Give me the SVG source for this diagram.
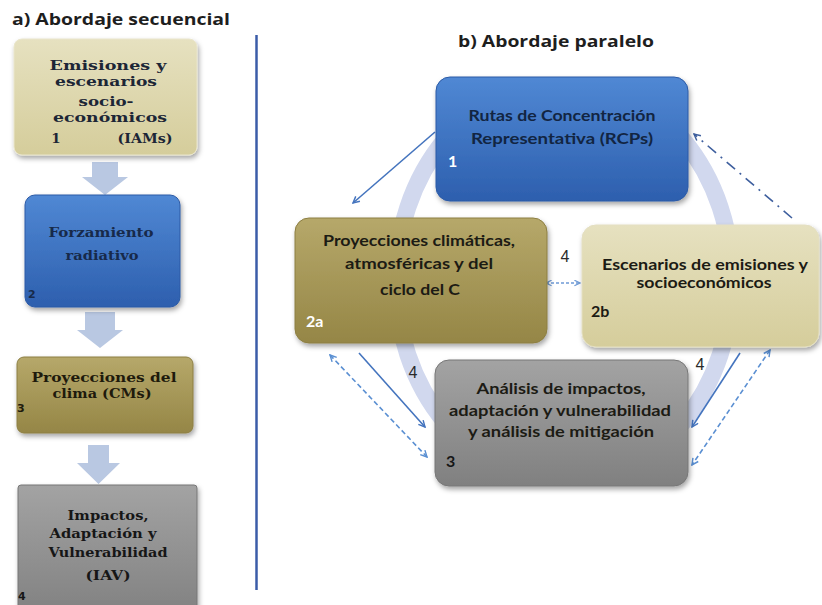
<svg xmlns="http://www.w3.org/2000/svg" width="822" height="605" viewBox="0 0 822 605">
<defs>
<style>
.title{font-family:"Open Sans","Liberation Sans",sans-serif;font-weight:bold;font-size:16px;fill:#1e1e1e}
.lt{font-family:"DejaVu Serif","Liberation Serif",serif;font-weight:bold;font-size:13.5px;fill:#1c2636;text-anchor:middle}
.ln{font-family:"DejaVu Sans","Liberation Sans",sans-serif;font-weight:bold;font-size:11px;fill:#1c2636}
.rt{font-family:"Lato","Open Sans",sans-serif;font-weight:bold;font-size:16px;fill:#1c1b14;text-anchor:middle}
.rn{font-family:"Lato","Open Sans",sans-serif;font-weight:bold;font-size:16px}
.four{font-family:"Liberation Sans","Arial",sans-serif;font-size:16px;fill:#2a2a2a;text-anchor:middle}
.bigarrow{fill:#b9c8e2}
.solid{fill:none;stroke:#4474be;stroke-width:1.6}
.dash{fill:none;stroke:#5a8fd2;stroke-width:1.6;stroke-dasharray:5 3}
.dot{fill:none;stroke:#6f9bd6;stroke-width:1.4;stroke-dasharray:3 2}
.dashdot{fill:none;stroke:#3e5f9e;stroke-width:1.6;stroke-dasharray:11 6 2 6}
</style>
<linearGradient id="gKhaki" x1="0" y1="0" x2="0" y2="1"><stop offset="0" stop-color="#e6e1c0"/><stop offset="1" stop-color="#d5cd9b"/></linearGradient>
<linearGradient id="gBlue" x1="0" y1="0" x2="0" y2="1"><stop offset="0" stop-color="#5088d4"/><stop offset="1" stop-color="#2d5fae"/></linearGradient>
<linearGradient id="gOlive" x1="0" y1="0" x2="0" y2="1"><stop offset="0" stop-color="#b6a86a"/><stop offset="1" stop-color="#958646"/></linearGradient>
<linearGradient id="gGray" x1="0" y1="0" x2="0" y2="1"><stop offset="0" stop-color="#a3a3a3"/><stop offset="1" stop-color="#808080"/></linearGradient>
<filter id="sh" x="-10%" y="-10%" width="125%" height="130%"><feDropShadow dx="1.5" dy="3" stdDeviation="2.5" flood-color="#000" flood-opacity="0.35"/></filter>
<clipPath id="ringClip"><rect x="300" y="95" width="520" height="375"/></clipPath>
<marker id="ah" viewBox="0 0 10 10" refX="9" refY="5" markerWidth="8" markerHeight="8" markerUnits="userSpaceOnUse" orient="auto-start-reverse"><path d="M1,1 L9,5 L1,9" fill="none" stroke="#4474be" stroke-width="1.8"/></marker>
<marker id="ahL" viewBox="0 0 10 10" refX="9" refY="5" markerWidth="8" markerHeight="8" markerUnits="userSpaceOnUse" orient="auto-start-reverse"><path d="M1,1 L9,5 L1,9" fill="none" stroke="#5a8fd2" stroke-width="1.8"/></marker>
<marker id="ahD" viewBox="0 0 10 10" refX="9" refY="5" markerWidth="8" markerHeight="8" markerUnits="userSpaceOnUse" orient="auto-start-reverse"><path d="M1,1 L9,5 L1,9" fill="none" stroke="#3e5f9e" stroke-width="1.8"/></marker>
<marker id="ahS" viewBox="0 0 10 10" refX="9" refY="5" markerWidth="7" markerHeight="7" markerUnits="userSpaceOnUse" orient="auto-start-reverse"><path d="M1,1 L9,5 L1,9" fill="none" stroke="#6f9bd6" stroke-width="1.8"/></marker>
</defs>
<rect width="822" height="605" fill="#ffffff"/>

<!-- Left panel -->
<text class="title" x="12" y="25" textLength="218" lengthAdjust="spacingAndGlyphs">a) Abordaje secuencial</text>

<g id="seq-arrows">
<polygon class="bigarrow" points="92,162 118,162 118,177 128,177 105,195 82,177 92,177"/>
<polygon class="bigarrow" points="85,312 115,312 115,330 123,330 100,348 77,330 85,330"/>
<polygon class="bigarrow" points="88,445 109,445 109,463 120,463 98.5,484 77,463 88,463"/>
</g>

<g id="seq1">
<rect x="14" y="39" width="183" height="116" rx="8" fill="url(#gKhaki)" stroke="#e9e5cc" stroke-width="1" filter="url(#sh)"/>
<text class="lt" x="108" y="70" textLength="117" lengthAdjust="spacingAndGlyphs">Emisiones  y</text>
<text class="lt" x="106" y="86" textLength="102" lengthAdjust="spacingAndGlyphs">escenarios</text>
<text class="lt" x="106" y="106" textLength="55" lengthAdjust="spacingAndGlyphs">socio-</text>
<text class="lt" x="110" y="122" textLength="114" lengthAdjust="spacingAndGlyphs">económicos</text>
<text class="lt" x="56" y="143">1</text>
<text class="lt" x="145" y="143" textLength="55" lengthAdjust="spacingAndGlyphs">(IAMs)</text>
</g>

<g id="seq2">
<rect x="25" y="195" width="155" height="112" rx="10" fill="url(#gBlue)" stroke="#2c5aa6" stroke-width="1" filter="url(#sh)"/>
<text class="lt" x="101" y="237" textLength="105" lengthAdjust="spacingAndGlyphs" style="fill:#172a4a">Forzamiento</text>
<text class="lt" x="102" y="260" textLength="73" lengthAdjust="spacingAndGlyphs" style="fill:#172a4a">radiativo</text>
<text class="ln" x="28" y="298" style="fill:#172a4a">2</text>
</g>

<g id="seq3">
<rect x="17" y="357" width="176" height="76" rx="7" fill="url(#gOlive)" stroke="#8c7e42" stroke-width="1" filter="url(#sh)"/>
<text class="lt" x="104" y="382" textLength="145" lengthAdjust="spacingAndGlyphs" style="fill:#1e1a0c">Proyecciones  del</text>
<text class="lt" x="102" y="398" textLength="99" lengthAdjust="spacingAndGlyphs" style="fill:#1e1a0c">clima  (CMs)</text>
<text class="ln" x="17" y="412" style="fill:#1e1a0c">3</text>
</g>

<g id="seq4">
<rect x="18" y="485" width="179" height="135" rx="3" fill="url(#gGray)" stroke="#777" stroke-width="1" filter="url(#sh)"/>
<text class="lt" x="108" y="520" textLength="81" lengthAdjust="spacingAndGlyphs" style="fill:#161616">Impactos,</text>
<text class="lt" x="103" y="538" textLength="107" lengthAdjust="spacingAndGlyphs" style="fill:#161616">Adaptación y</text>
<text class="lt" x="108" y="557" textLength="119" lengthAdjust="spacingAndGlyphs" style="fill:#161616">Vulnerabilidad</text>
<text class="lt" x="108" y="580" textLength="45" lengthAdjust="spacingAndGlyphs" style="fill:#161616">(IAV)</text>
<text class="ln" x="18" y="600" style="fill:#161616">4</text>
</g>

<line x1="256.5" y1="35" x2="256.5" y2="590" stroke="#3b5ca8" stroke-width="2.5"/>

<!-- Right panel -->
<text class="title" x="556" y="47" text-anchor="middle" textLength="196" lengthAdjust="spacingAndGlyphs">b) Abordaje paralelo</text>

<g id="cycle-ring" clip-path="url(#ringClip)">
<ellipse cx="564" cy="281" rx="168" ry="200" fill="none" stroke="#d1d8ee" stroke-width="17"/>
</g>

<g id="connectors">
<path class="solid" d="M435,132 L353,203" marker-end="url(#ah)"/>
<path class="dashdot" d="M792,218 L694,134" marker-end="url(#ahD)"/>
<path class="dot" d="M546,283 L580,283" marker-start="url(#ahS)" marker-end="url(#ahS)"/>
<path class="solid" d="M359,353 L425,427" marker-end="url(#ah)"/>
<path class="dash" d="M330,355 L427,457" marker-start="url(#ahL)" marker-end="url(#ahL)"/>
<path class="solid" d="M740,353 L692,427" marker-end="url(#ah)"/>
<path class="dash" d="M770,350 L692,465" marker-start="url(#ahL)" marker-end="url(#ahL)"/>
<text class="four" x="565" y="262">4</text>
<text class="four" x="413" y="378">4</text>
<text class="four" x="700" y="370">4</text>
</g>

<g id="rcp">
<rect x="436" y="77" width="252" height="124" rx="14" fill="url(#gBlue)" stroke="#2c5aa6" stroke-width="1" filter="url(#sh)"/>
<text class="rt" x="562" y="121" textLength="187" lengthAdjust="spacingAndGlyphs" style="fill:#122542">Rutas de Concentración</text>
<text class="rt" x="562" y="144" textLength="182" lengthAdjust="spacingAndGlyphs" style="fill:#122542">Representativa (RCPs)</text>
<text class="rn" x="448" y="167" style="fill:#ffffff">1</text>
</g>

<g id="clim">
<rect x="295" y="218" width="252" height="125" rx="14" fill="url(#gOlive)" stroke="#8c7e42" stroke-width="1" filter="url(#sh)"/>
<text class="rt" x="419" y="246" textLength="192" lengthAdjust="spacingAndGlyphs">Proyecciones climáticas,</text>
<text class="rt" x="419" y="269" textLength="148" lengthAdjust="spacingAndGlyphs">atmosféricas  y del</text>
<text class="rt" x="420" y="295" textLength="80" lengthAdjust="spacingAndGlyphs">ciclo del C</text>
<text class="rn" x="306" y="327" style="fill:#ffffff">2a</text>
</g>

<g id="emis">
<rect x="582" y="225" width="237" height="122" rx="14" fill="url(#gKhaki)" stroke="#e4dfc2" stroke-width="1" filter="url(#sh)"/>
<text class="rt" x="705" y="270" textLength="206" lengthAdjust="spacingAndGlyphs">Escenarios de emisiones y</text>
<text class="rt" x="704" y="288" textLength="135" lengthAdjust="spacingAndGlyphs">socioeconómicos</text>
<text class="rn" x="591" y="317" style="fill:#1c1b14">2b</text>
</g>

<g id="impact">
<rect x="435" y="360" width="253" height="126" rx="14" fill="url(#gGray)" stroke="#777" stroke-width="1" filter="url(#sh)"/>
<text class="rt" x="561" y="394" textLength="169" lengthAdjust="spacingAndGlyphs">Análisis de impactos,</text>
<text class="rt" x="560" y="416" textLength="222" lengthAdjust="spacingAndGlyphs">adaptación y vulnerabilidad</text>
<text class="rt" x="561" y="437" textLength="186" lengthAdjust="spacingAndGlyphs">y análisis de mitigación</text>
<text class="rn" x="446" y="467" style="fill:#161616">3</text>
</g>
</svg>
